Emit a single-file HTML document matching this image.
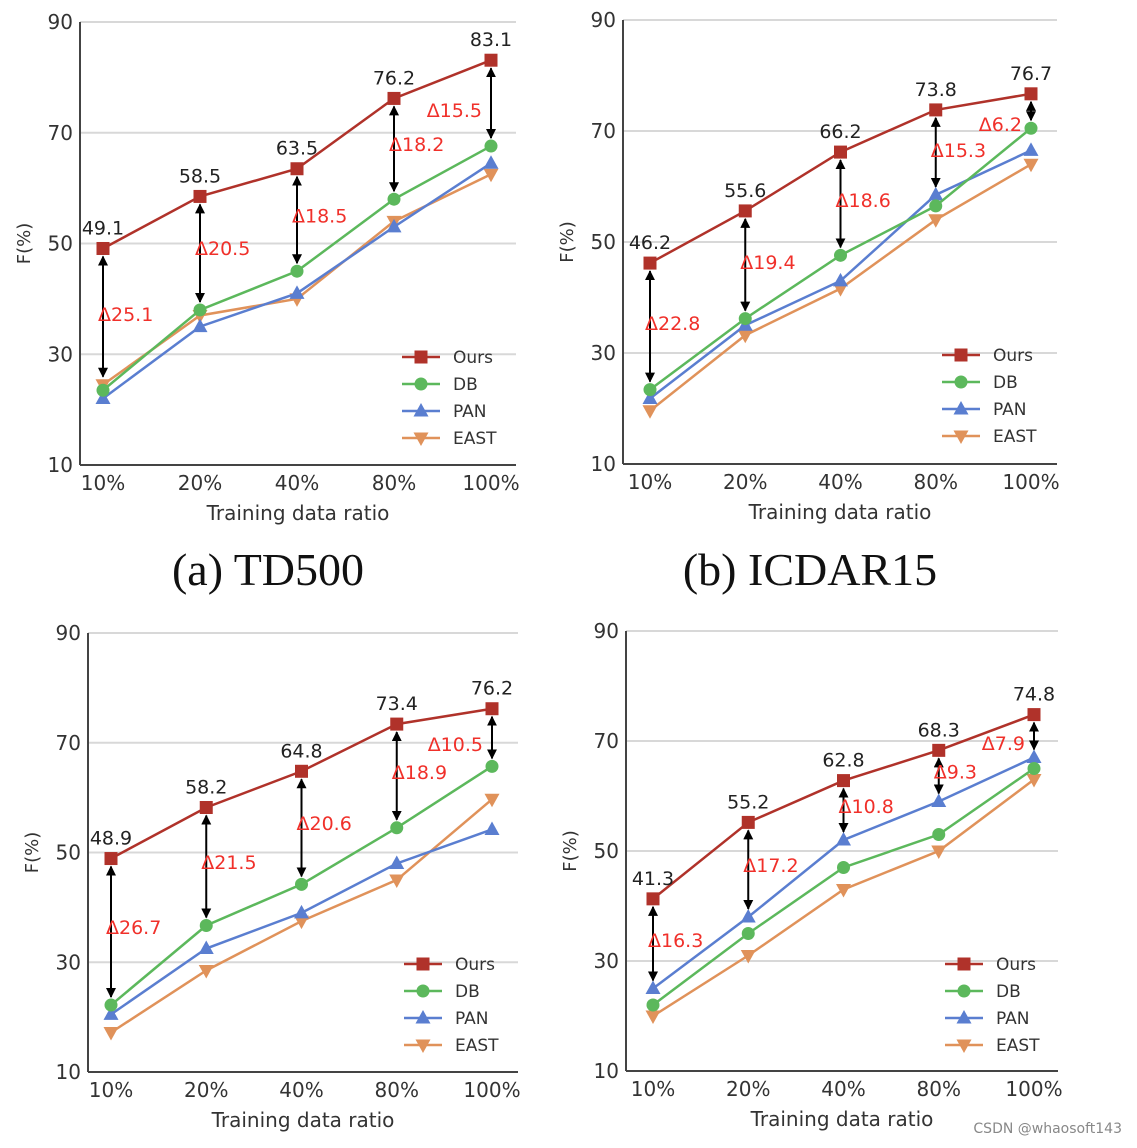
<!DOCTYPE html>
<html><head><meta charset="utf-8"><style>
body{margin:0;background:#fff;width:1137px;height:1143px;overflow:hidden}
svg text{font-family:"DejaVu Sans","Liberation Sans",sans-serif}
</style></head><body>
<svg id="chart" width="1137" height="1143" viewBox="0 0 1137 1143" xmlns="http://www.w3.org/2000/svg">
<text x="268" y="585" text-anchor="middle" font-size="46" style="font-family:'Liberation Serif',serif" fill="#111">(a) TD500</text>
<text x="810" y="585" text-anchor="middle" font-size="46" style="font-family:'Liberation Serif',serif" fill="#111">(b) ICDAR15</text>
<text x="1122" y="1133" text-anchor="end" font-size="14" fill="#888">CSDN @whaosoft143</text>
</svg>
<script>
const categories=["10%","20%","40%","80%","100%"];
const yTicks=[10,30,50,70,90];
const seriesNames=["Ours","DB","PAN","EAST"];
const aOurs=[49.1,58.5,63.5,76.2,83.1];
const aDB=[23.5,38,45,58,67.6];
const aPAN=[22,35,41,53,64.5];
const aEAST=[24.5,37,40,54,62.5];
const aDelta=["Δ25.1","Δ20.5","Δ18.5","Δ18.2","Δ15.5"];
const aDeltaY=[37.3,49.2,55.1,68.0,74.1];
const bOurs=[46.2,55.6,66.2,73.8,76.7];
const bDB=[23.4,36.2,47.6,56.5,70.5];
const bPAN=[21.8,35,43,58.5,66.5];
const bEAST=[19.6,33.2,41.6,54,64];
const bDelta=["Δ22.8","Δ19.4","Δ18.6","Δ15.3","Δ6.2"];
const bDeltaY=[35.4,46.4,57.6,66.6,71.3];
const cOurs=[48.9,58.2,64.8,73.4,76.2];
const cDB=[22.2,36.7,44.2,54.5,65.7];
const cPAN=[20.5,32.5,39,48,54.2];
const cEAST=[17.2,28.5,37.5,45,59.7];
const cDelta=["Δ26.7","Δ21.5","Δ20.6","Δ18.9","Δ10.5"];
const cDeltaY=[36.4,48.3,55.4,64.7,69.8];
const dOurs=[41.3,55.2,62.8,68.3,74.8];
const dDB=[22,35,47,53,65];
const dPAN=[25,38,52,59,67];
const dEAST=[20,31,43,50,63];
const dDelta=["Δ16.3","Δ17.2","Δ10.8","Δ9.3","Δ7.9"];
const dDeltaY=[33.8,47.5,58.2,64.5,69.6];

const colors=["#b0322a","#5cb85c","#5a7ed0","#e0925a"];
const NS="http://www.w3.org/2000/svg";
const svg=document.getElementById('chart');
function mk(tag,at,parent){const e=document.createElementNS(NS,tag);for(const k in at)e.setAttribute(k,at[k]);(parent||svg).appendChild(e);return e;}
svg.insertAdjacentHTML('beforeend','<defs><marker id="ah" viewBox="0 0 10 10" refX="9" refY="5" markerWidth="5" markerHeight="5" orient="auto-start-reverse"><path d="M0,0L10,5L0,10z" fill="#000"/></marker></defs>');

function marker(g,k,x,y,c){
  let e;
  if(k==0)e=mk('rect',{x:x-6.5,y:y-6.5,width:13,height:13,fill:c},g);
  else if(k==1)e=mk('circle',{cx:x,cy:y,r:6.5,fill:c},g);
  else if(k==2)e=mk('path',{d:`M${x},${y-8}L${x+7.5},${y+5.5}L${x-7.5},${y+5.5}Z`,fill:c},g);
  else e=mk('path',{d:`M${x},${y+8}L${x+7.5},${y-5.5}L${x-7.5},${y-5.5}Z`,fill:c},g);
  return e;
}

function panel(id,L,R,T,B,x0,x1,series,deltas,deltaY,leg){
  const g=mk('g',{});
  
  
  const xs=i=>x0+(x1-x0)*i/(categories.length-1);
  const ys=v=>B-(v-10)/80*(B-T);
  yTicks.forEach(t=>{
    if(t>10){const l=mk('line',{x1:L,x2:R,y1:ys(t),y2:ys(t),stroke:'#d8d8d8','stroke-width':2},g);
    
    }
    const tx=mk('text',{x:L-7,y:ys(t)+7,'text-anchor':'end','font-size':20,fill:'#333'},g);tx.textContent=t;
    
    
  });
  mk('line',{x1:L,x2:L,y1:T,y2:B,stroke:'#444','stroke-width':2},g);
  mk('line',{x1:L,x2:R,y1:B,y2:B,stroke:'#444','stroke-width':2},g);
  categories.forEach((c,i)=>{const tx=mk('text',{x:xs(i),y:B+25,'text-anchor':'middle','font-size':20,fill:'#333'},g);tx.textContent=c;
    
    });
  const xt=mk('text',{x:(L+R)/2,y:B+55,'text-anchor':'middle','font-size':20,fill:'#333'},g);xt.textContent='Training data ratio';
  
  
  const yt=mk('text',{x:0,y:0,'text-anchor':'middle','font-size':18,fill:'#333',transform:`translate(${L-50},${(T+B)/2}) rotate(-90)`},g);yt.textContent='F(%)';
  
  
  for(let k=series.length-1;k>=0;k--){
    const pts=series[k].map((v,i)=>xs(i)+','+ys(v)).join(' ');
    const pl=mk('polyline',{points:pts,fill:'none',stroke:colors[k],'stroke-width':2.5},g);
    
    
    series[k].forEach((v,i)=>{const m=marker(g,k,xs(i),ys(v),colors[k]);
      
      });
  }
  series[0].forEach((v,i)=>{
    const lo=Math.max(series[1][i],series[2][i],series[3][i]);
    const a=mk('line',{x1:xs(i),x2:xs(i),y1:ys(v)+8,y2:ys(lo)-8,stroke:'#000','stroke-width':2,'marker-start':'url(#ah)','marker-end':'url(#ah)'},g);
    
    
    const vl=mk('text',{x:xs(i),y:ys(v)-14,'text-anchor':'middle','font-size':19,fill:'#222'},g);vl.textContent=v.toFixed(1);
    
    
    const last=i==categories.length-1;
    const dl=mk('text',{x:last?xs(i)-9:xs(i)-5,y:ys(deltaY[i])+7,'text-anchor':last?'end':'start','font-size':19,fill:'#f0302a'},g);dl.textContent=deltas[i];
    
    
  });
  seriesNames.forEach((n,k)=>{
    const y=leg[1]+k*27;
    mk('line',{x1:leg[0],x2:leg[0]+38,y1:y,y2:y,stroke:colors[k],'stroke-width':2.5},g);
    marker(g,k,leg[0]+19,y,colors[k]);
    const t=mk('text',{x:leg[0]+51,y:y+6,'font-size':17,fill:'#333'},g);t.textContent=n;
    
    
  });
}
panel('a',80,516,22,465,103,491,[aOurs,aDB,aPAN,aEAST],aDelta,aDeltaY,[402,357]);
panel('b',623,1057,20,464,650,1031,[bOurs,bDB,bPAN,bEAST],bDelta,bDeltaY,[942,355]);
panel('c',88,518,633,1072,111,492,[cOurs,cDB,cPAN,cEAST],cDelta,cDeltaY,[404,964]);
panel('d',626,1058,631,1071,653,1034,[dOurs,dDB,dPAN,dEAST],dDelta,dDeltaY,[945,964]);
</script>
</body></html>
